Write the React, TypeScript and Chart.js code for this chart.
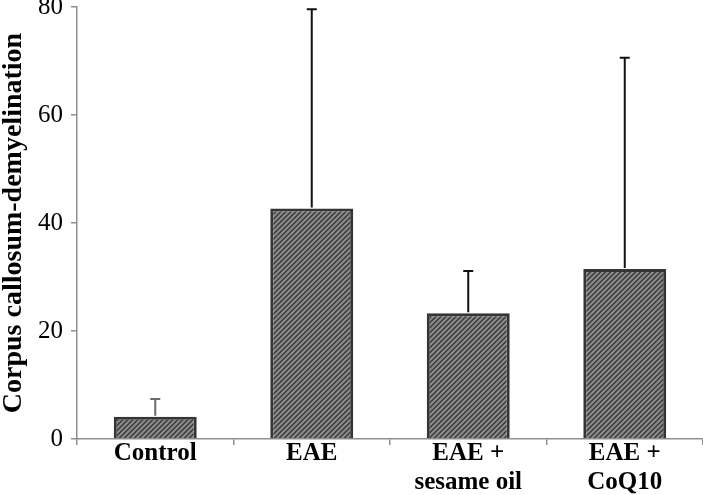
import React, { useEffect, useRef } from "react";
import { Chart, registerables } from "chart.js";

Chart.register(...registerables);

const categories: string[][] = [["Control"], ["EAE"], ["EAE +", "sesame oil"], ["EAE +", "CoQ10"]];
const means: number[] = [4.1, 42.7, 23.3, 31.5];
const errorsUp: number[] = [3.3, 36.9, 7.8, 39.1];
const yTicks: number[] = [0, 20, 40, 60, 80];
const yTitle = "Corpus callosum-demyelination";

function makePattern(): CanvasPattern | string {
  const s = 5;
  const c = document.createElement("canvas");
  c.width = s;
  c.height = s;
  const g = c.getContext("2d");
  if (!g) return "#555";
  g.fillStyle = "#383838";
  g.fillRect(0, 0, s, s);
  g.strokeStyle = "#8a8a8a";
  g.lineWidth = 2.2;
  g.beginPath();
  g.moveTo(-1, s + 1);
  g.lineTo(s + 1, -1);
  g.moveTo(-2, 2);
  g.lineTo(2, -2);
  g.moveTo(s - 2, s + 2);
  g.lineTo(s + 2, s - 2);
  g.stroke();
  const p = g.createPattern(c, "repeat");
  return p || "#555";
}

const errorBarPlugin = {
  id: "errorBars",
  afterDatasetsDraw(chart: any) {
    const ctx = chart.ctx;
    const meta = chart.getDatasetMeta(0);
    const yScale = chart.scales.y;
    ctx.save();
    ctx.lineWidth = 2;
    meta.data.forEach((bar: any, i: number) => {
      const x = bar.x;
      const yTop = yScale.getPixelForValue(means[i] + errorsUp[i]);
      const yBar = bar.y;
      ctx.strokeStyle = i === 0 ? "#6a6a6a" : "#111";
      ctx.beginPath();
      ctx.moveTo(x, yBar - 1);
      ctx.lineTo(x, yTop);
      ctx.moveTo(x - 5, yTop);
      ctx.lineTo(x + 5, yTop);
      ctx.stroke();
    });
    ctx.restore();
  },
};

export default function App() {
  const ref = useRef<HTMLCanvasElement | null>(null);
  useEffect(() => {
    document.body.style.margin = "0";
    const canvas = ref.current;
    if (!canvas) return;
    const pattern = makePattern();
    const chart = new Chart(canvas, {
      type: "bar",
      data: {
        labels: categories,
        datasets: [
          {
            data: means,
            backgroundColor: pattern as any,
            borderColor: "#353535",
            borderWidth: 3,
            categoryPercentage: 1,
            barPercentage: 0.53,
          },
        ],
      },
      options: {
        responsive: false,
        animation: false,
        devicePixelRatio: 1,
        layout: { padding: 0 },
        plugins: {
          legend: { display: false },
          tooltip: { enabled: false },
          title: { display: false },
        },
        scales: {
          x: {
            grid: {
              display: true,
              drawOnChartArea: false,
              drawTicks: true,
              tickLength: 6,
              color: "#8f8f8f",
              lineWidth: 1.5,
            },
            border: { display: true, color: "#8f8f8f", width: 1.5 },
            ticks: {
              color: "#000",
              padding: -6,
              maxRotation: 0,
              autoSkip: false,
              font: { family: "'Liberation Serif', serif", size: 25, weight: "bold", lineHeight: 1.15 },
            },
            afterFit: (s: any) => {
              s.height = 56;
              s.paddingLeft = 0;
              s.paddingRight = 0;
            },
          },
          y: {
            min: 0,
            max: 80,
            afterBuildTicks: (s: any) => {
              s.ticks = yTicks.map((v) => ({ value: v }));
            },
            grid: {
              display: true,
              drawOnChartArea: false,
              drawTicks: true,
              tickLength: 6,
              color: "#8f8f8f",
              lineWidth: 1.5,
            },
            border: { display: true, color: "#8f8f8f", width: 1.5 },
            ticks: {
              color: "#000",
              padding: 8,
              font: { family: "'Liberation Serif', serif", size: 25 },
            },
            title: {
              display: true,
              text: yTitle,
              color: "#000",
              padding: 0,
              font: { family: "'Liberation Serif', serif", size: 28, weight: "bold", lineHeight: 0.95 },
            },
            afterFit: (s: any) => {
              s.width = 77;
              s.paddingTop = 7;
              s.paddingBottom = 0;
            },
          },
        },
      },
      plugins: [errorBarPlugin],
    });
    return () => chart.destroy();
  }, []);
  return (
    <div style={{ width: 703, height: 495, position: "relative" }}>
      <canvas ref={ref} width={703} height={495} />
    </div>
  );
}
